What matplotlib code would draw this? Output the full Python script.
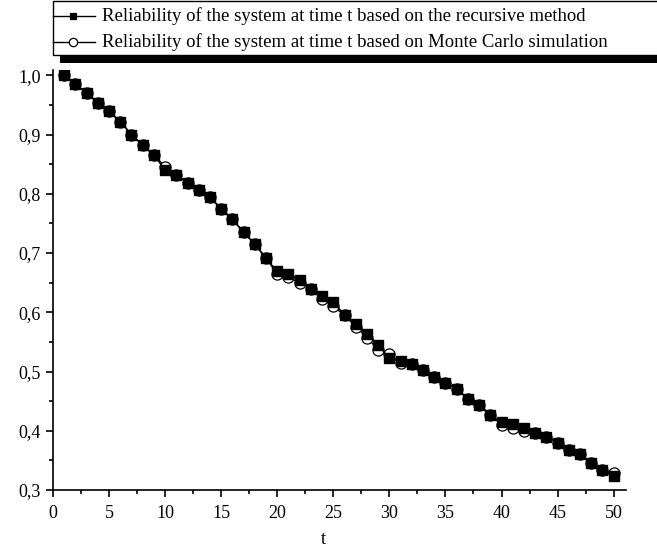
import numpy as np
import matplotlib
matplotlib.use("Agg")
import matplotlib.pyplot as plt
from matplotlib.patches import Rectangle
from matplotlib.lines import Line2D
from matplotlib.ticker import MultipleLocator

plt.rcParams['font.family'] = ['Liberation Serif', 'DejaVu Serif']

# data
t = list(range(1, 51))
rel_recursive = [1.000, 0.985, 0.970, 0.954, 0.939, 0.922, 0.900, 0.882, 0.865, 0.840,
                 0.831, 0.819, 0.806, 0.794, 0.775, 0.757, 0.735, 0.715, 0.691, 0.669,
                 0.665, 0.654, 0.640, 0.627, 0.618, 0.595, 0.581, 0.564, 0.545, 0.522,
                 0.517, 0.513, 0.503, 0.491, 0.481, 0.471, 0.454, 0.444, 0.427, 0.414,
                 0.412, 0.405, 0.397, 0.390, 0.380, 0.368, 0.360, 0.346, 0.334, 0.323]
rel_monte_carlo = [1.000, 0.985, 0.970, 0.954, 0.939, 0.922, 0.900, 0.882, 0.865, 0.846,
                   0.831, 0.819, 0.806, 0.794, 0.775, 0.757, 0.735, 0.715, 0.691, 0.665,
                   0.660, 0.649, 0.640, 0.622, 0.610, 0.595, 0.576, 0.557, 0.537, 0.530,
                   0.515, 0.513, 0.503, 0.491, 0.481, 0.471, 0.454, 0.444, 0.427, 0.410,
                   0.404, 0.400, 0.397, 0.390, 0.380, 0.368, 0.360, 0.346, 0.334, 0.328]

label_rec = 'Reliability of the system at time t based on the recursive method'
label_mc = 'Reliability of the system at time t based on Monte Carlo simulation'

W, H = 657, 555
fig = plt.figure(figsize=(W / 100, H / 100), dpi=100)
ax = fig.add_axes([53 / W, 65 / H, 573 / W, 420 / H])

ax.plot(t, rel_monte_carlo, color='black', lw=1.0, marker='o', ms=8,
        mfc='white', mec='black', mew=0.9)
ax.plot(t, rel_recursive, color='black', lw=1.0, marker='s', ms=6.5,
        mfc='black', mec='black')

ax.set_xlim(0, 51.1)
ax.set_ylim(0.3, 1.009)
ax.spines['top'].set_visible(False)
ax.spines['right'].set_visible(False)
ax.spines['left'].set_linewidth(1.2)
ax.spines['bottom'].set_linewidth(1.2)

ax.xaxis.set_major_locator(MultipleLocator(5))
ax.xaxis.set_minor_locator(MultipleLocator(2.5))
ax.yaxis.set_major_locator(MultipleLocator(0.1))
ax.yaxis.set_minor_locator(MultipleLocator(0.05))
ax.tick_params(which='major', direction='out', length=5, width=1.2, labelsize=13, pad=4)
ax.tick_params(axis='x', which='major', pad=6)
ax.tick_params(which='minor', direction='out', length=3, width=1.2)
ax.yaxis.set_major_formatter(plt.FuncFormatter(lambda v, p: f'{v:.1f}'.replace('.', ',')))
fig.text(323 / W, 1 - 540 / H, 't', fontsize=13.5, ha='center', va='center')

# legend box with thick shadow bar below
fig.patches.append(Rectangle((60 / W, 1 - 63 / H), 1.0, 9 / H,
                             transform=fig.transFigure, facecolor='black',
                             edgecolor='none', zorder=1))
fig.patches.append(Rectangle((53 / W, 1 - 55 / H), 1.0, 54 / H,
                             transform=fig.transFigure, facecolor='white',
                             edgecolor='black', lw=1.0, zorder=2))
for yy, mk, fc, txt in [(16, 's', 'black', label_rec), (42, 'o', 'white', label_mc)]:
    yf = 1 - yy / H
    fig.lines.append(Line2D([53 / W, 95 / W], [yf, yf], transform=fig.transFigure,
                            color='black', lw=1.0, zorder=3))
    fig.lines.append(Line2D([73 / W], [yf], transform=fig.transFigure, marker=mk,
                            ms=5 if mk == 's' else 6, mfc=fc, mec='black',
                            mew=0.9, ls='none', zorder=4))
    fig.text(102 / W, yf, txt, fontsize=13.5, va='center', ha='left', zorder=5)

fig.savefig('out.png', dpi=100)
